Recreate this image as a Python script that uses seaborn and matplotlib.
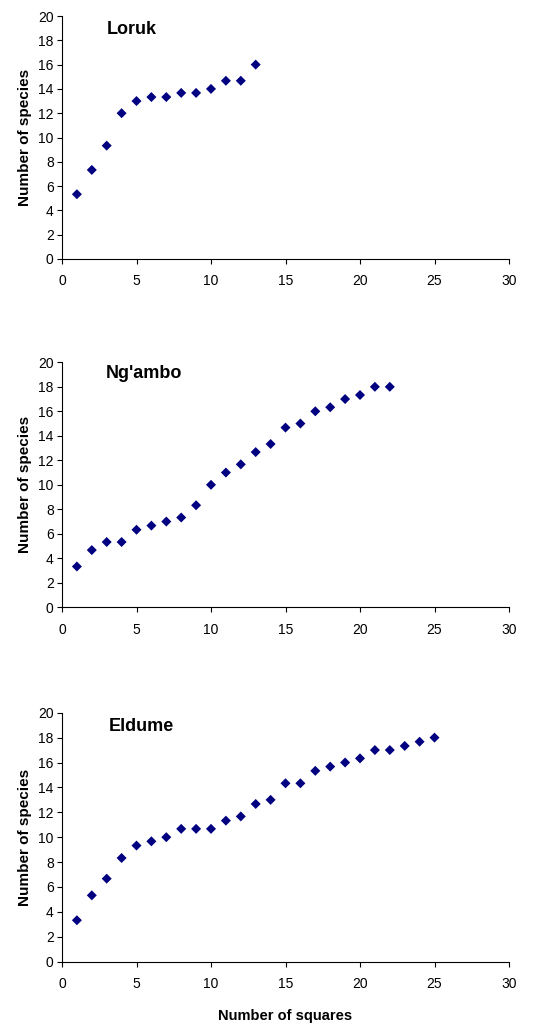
import matplotlib
matplotlib.use("Agg")
import matplotlib.pyplot as plt
import seaborn as sns
import pandas as pd

sns.set_theme(style="white")
plt.rcParams['font.family'] = ['Liberation Sans', 'DejaVu Sans']
plt.rcParams['text.color'] = 'black'
plt.rcParams['axes.labelcolor'] = 'black'
plt.rcParams['xtick.color'] = 'black'
plt.rcParams['ytick.color'] = 'black'

loruk_x = list(range(1, 14))
loruk_y = [5.33, 7.33, 9.33, 12, 13, 13.33, 13.33, 13.67, 13.67, 14, 14.67, 14.67, 16]

ngambo_x = list(range(1, 23))
ngambo_y = [3.33, 4.67, 5.33, 5.33, 6.33, 6.67, 7, 7.33, 8.33, 10, 11, 11.67,
            12.67, 13.33, 14.67, 15, 16, 16.33, 17, 17.33, 18, 18]

eldume_x = list(range(1, 26))
eldume_y = [3.33, 5.33, 6.67, 8.33, 9.33, 9.67, 10, 10.67, 10.67, 10.67, 11.33,
            11.67, 12.67, 13, 14.33, 14.33, 15.33, 15.67, 16, 16.33, 17, 17,
            17.33, 17.67, 18]

sites = ["Loruk", "Ng'ambo", "Eldume"]
xticks = [0, 5, 10, 15, 20, 25, 30]
yticks = [0, 2, 4, 6, 8, 10, 12, 14, 16, 18, 20]

W, H = 556, 1024
fig = plt.figure(figsize=(W / 100, H / 100), dpi=100)

# axes boxes in pixels: (top, bottom)
boxes = [(16, 259), (362.3, 607.3), (712.7, 961.7)]
title_pos = [(0.100, 0.946), (0.097, 0.955), (0.105, 0.944)]
left_px, right_px = 62, 509

data = [(loruk_x, loruk_y), (ngambo_x, ngambo_y), (eldume_x, eldume_y)]

for i, ((xs, ys), name, (top, bot)) in enumerate(zip(data, sites, boxes)):
    ax = fig.add_axes([left_px / W, 1 - bot / H, (right_px - left_px) / W, (bot - top) / H])
    df = pd.DataFrame({"squares": xs, "species": ys})
    sns.scatterplot(data=df, x="squares", y="species", ax=ax, marker="D",
                    s=26, color="#000080", edgecolor="none", linewidth=0)
    ax.set_xlim(0, 30)
    ax.set_ylim(0, 20)
    ax.set_xticks(xticks)
    ax.set_yticks(yticks)
    ax.tick_params(axis="both", which="major", direction="out", length=3.5,
                   width=0.8, color="black", labelcolor="black", labelsize=10,
                   bottom=True, left=True)
    ax.tick_params(axis="x", pad=7.5)
    ax.tick_params(axis="y", pad=2.5)
    for s in ["top", "right"]:
        ax.spines[s].set_visible(False)
    for s in ["left", "bottom"]:
        ax.spines[s].set_color("black")
        ax.spines[s].set_linewidth(0.8)
    ax.set_ylabel("Number of species", fontsize=11, fontweight="bold",
                  labelpad=4, color="black")
    if i == 2:
        ax.set_xlabel("Number of squares", fontsize=10.5, fontweight="bold",
                      labelpad=13, color="black")
    else:
        ax.set_xlabel("")
    tx, ty = title_pos[i]
    ax.text(tx, ty, name, transform=ax.transAxes, fontsize=13, fontweight="bold",
            ha="left", va="center", color="black")

fig.savefig("out.png", dpi=100)
